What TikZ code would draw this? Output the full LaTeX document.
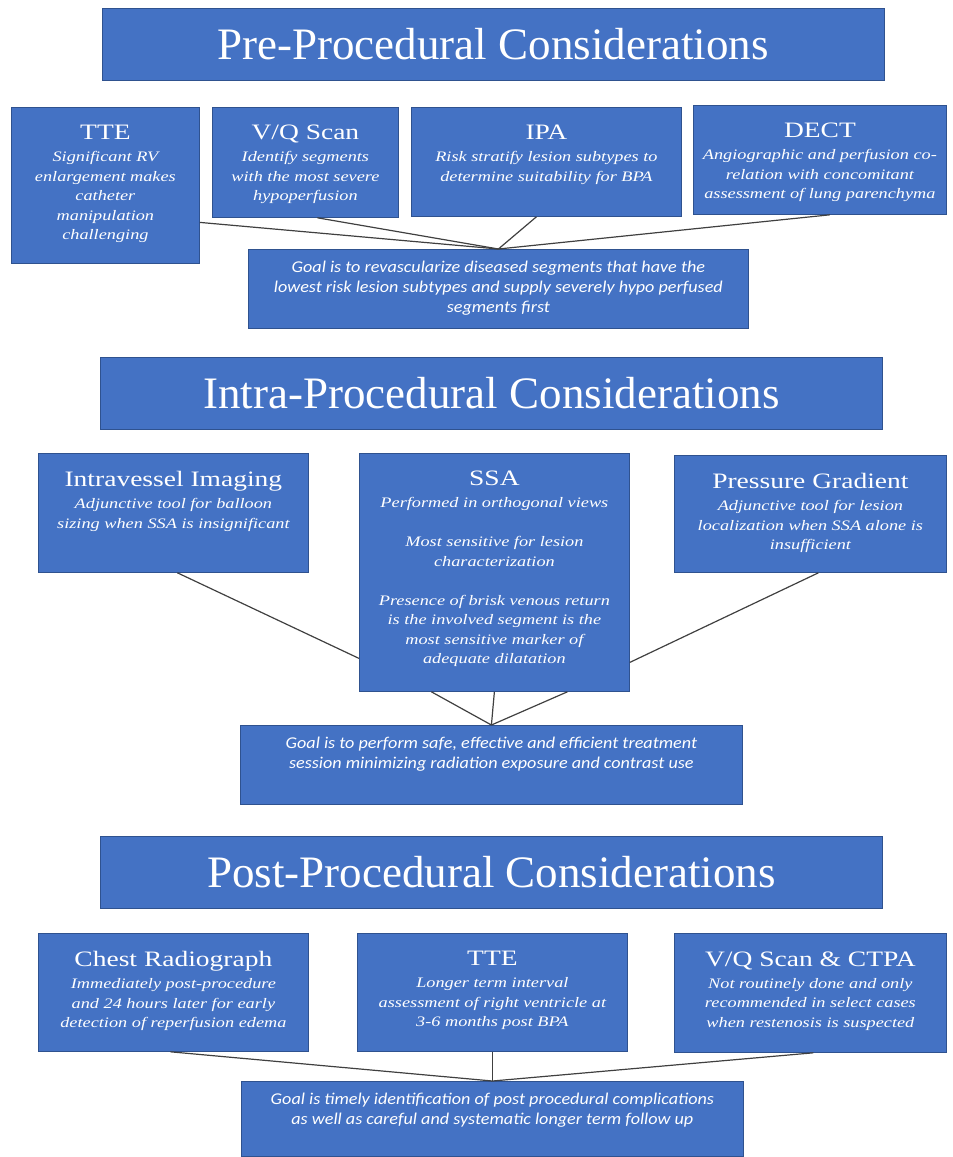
\documentclass[tikz,border=0pt]{standalone}
\usepackage{fontspec}
\setmainfont{Liberation Serif}
\newfontfamily\titlefont{Liberation Serif}
\newfontfamily\headfont[FakeStretch=1.25]{Liberation Serif}
\newfontfamily\descfont[FakeStretch=1.26]{Liberation Serif}
\newfontfamily\goalfont[FakeStretch=1.1]{Carlito}
\definecolor{boxblue}{HTML}{4472C4}
\definecolor{boxedge}{HTML}{2F528F}
\definecolor{linkgray}{HTML}{404040}
\newcommand{\cardtext}[3]{\parbox[c][#2][t]{#1}{\centering #3}}
\newcommand{\hd}[1]{\vspace*{18pt}{\headfont\fontsize{22}{26}\selectfont #1\par}\vspace{2.5pt}}
\newcommand{\ds}[1]{{\descfont\itshape\fontsize{14.5}{19.5}\selectfont #1\par}}
\newcommand{\gl}[1]{\vspace*{12pt}{\goalfont\itshape\fontsize{16.5}{20}\selectfont #1\par}}

\begin{document}
\begin{tikzpicture}[x=1pt,y=-1pt,
    card/.style={draw=boxedge, fill=boxblue, text=white, inner sep=0pt, line width=0.8pt, anchor=north west},
    banner/.style={card, anchor=center, minimum width=782pt, minimum height=72pt, font=\titlefont\fontsize{45}{45}\selectfont},
    link/.style={draw=linkgray, line width=1.2pt}]
    \useasboundingbox (0,0) rectangle (953,1157);

    \node[banner] (pre) at (493,44) {Pre-Procedural Considerations};
    \node[card] (tte1) at (11,107) {\cardtext{188pt}{156pt}{\hd{TTE}\ds{Significant RV\\ enlargement makes\\ catheter\\ manipulation\\ challenging}}};
    \node[card] (vq1) at (212,107) {\cardtext{186pt}{110pt}{\hd{V/Q Scan}\ds{Identify segments\\ with the most severe\\ hypoperfusion}}};
    \node[card] (ipa) at (411,107) {\cardtext{270pt}{109pt}{\hd{IPA}\ds{Risk stratify lesion subtypes to\\ determine suitability for BPA}}};
    \node[card] (dect) at (693,105) {\cardtext{253pt}{109pt}{\hd{DECT}\ds{Angiographic and perfusion co-\\ relation with concomitant\\ assessment of lung parenchyma}}};
    \node[card] (goal1) at (248,249) {\cardtext{500pt}{79pt}{\gl{Goal is to revascularize diseased segments that have the\\ lowest risk lesion subtypes and supply severely hypo perfused\\ segments first}}};
    \draw[link] ([yshift=-37pt]tte1.east) -- (goal1.north);
    \draw[link] ([xshift=12pt]vq1.south) -- (goal1.north);
    \draw[link] ([xshift=-10pt]ipa.south) -- (goal1.north);
    \draw[link] ([xshift=10pt]dect.south) -- (goal1.north);

    \node[banner] (intra) at (491.5,393.5) {Intra-Procedural Considerations};
    \node[card] (ivi) at (38,453) {\cardtext{270pt}{119pt}{\hd{Intravessel Imaging}\ds{Adjunctive tool for balloon\\ sizing when SSA is insignificant}}};
    \node[card] (ssa) at (359,453) {\cardtext{270pt}{238pt}{\hd{SSA}\ds{Performed in orthogonal views\\[19.5pt] Most sensitive for lesion\\ characterization\\[19.5pt] Presence of brisk venous return\\ is the involved segment is the\\ most sensitive marker of\\ adequate dilatation}}};
    \node[card] (pgrad) at (674,455) {\cardtext{272pt}{117pt}{\hd{Pressure Gradient}\ds{Adjunctive tool for lesion\\ localization when SSA alone is\\ insufficient}}};
    \node[card] (goal2) at (240,725) {\cardtext{502pt}{79pt}{\gl{Goal is to perform safe, effective and efficient treatment\\ session minimizing radiation exposure and contrast use}}};
    \draw[link] ([xshift=4pt]ivi.south) -- ([yshift=-86pt]ssa.west);
    \draw[link] ([xshift=8pt]pgrad.south) -- ([yshift=-90pt]ssa.east);
    \draw[link] ([xshift=-63pt]ssa.south) -- (goal2.north);
    \draw[link] (ssa.south) -- (goal2.north);
    \draw[link] ([xshift=73pt]ssa.south) -- (goal2.north);

    \node[banner] (post) at (491.5,872.5) {Post-Procedural Considerations};
    \node[card] (chest) at (38,933) {\cardtext{270pt}{118pt}{\hd{Chest Radiograph}\ds{Immediately post-procedure\\ and 24 hours later for early\\ detection of reperfusion edema}}};
    \node[card] (tte3) at (357,933) {\cardtext{270pt}{118pt}{\hd{TTE}\ds{Longer term interval\\ assessment of right ventricle at\\ 3-6 months post BPA}}};
    \node[card] (vqct) at (674,933) {\cardtext{272pt}{119pt}{\hd{V/Q Scan \& CTPA}\ds{Not routinely done and only\\ recommended in select cases\\ when restenosis is suspected}}};
    \node[card] (goal3) at (241,1081) {\cardtext{502pt}{75pt}{\gl{Goal is timely identification of post procedural complications\\ as well as careful and systematic longer term follow up}}};
    \draw[link] ([xshift=-3pt]chest.south) -- (goal3.north);
    \draw[link] (tte3.south) -- (goal3.north);
    \draw[link] ([xshift=3pt]vqct.south) -- (goal3.north);
\end{tikzpicture}
\end{document}
